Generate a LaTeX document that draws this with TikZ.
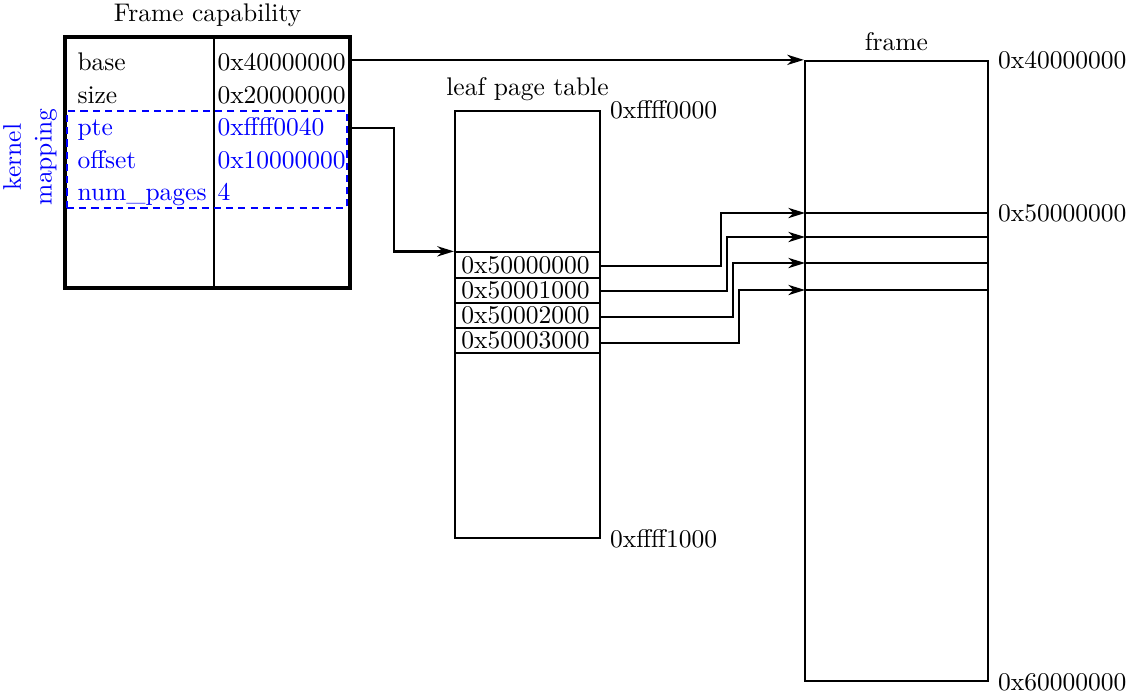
\documentclass[tikz,border=0pt]{standalone}
\usetikzlibrary{arrows.meta,fit}
\begin{document}
\begin{tikzpicture}[x=0.39216pt,y=-0.39216pt,
  capbox/.style={draw,line width=1.3pt,inner sep=0pt},
  membox/.style={draw,line width=0.9pt,inner sep=0pt},
  kbox/.style={draw=blue,dash pattern=on 2.8pt off 2pt,line width=0.9pt,inner sep=0pt},
  divider/.style={line width=0.9pt},
  field/.style={anchor=base west,inner sep=0pt},
  kfield/.style={field,text=blue},
  title/.style={anchor=south},
  addr/.style={anchor=west},
  entry/.style={draw,line width=0.8pt,minimum height=25.25*0.39216pt,
    text width=51.9pt,inner xsep=2.5pt,inner ysep=0pt,align=left},
  arr/.style={line width=0.9pt,-{Stealth[length=6.5pt,width=4pt,inset=2pt]}},
  sep/.style={line width=0.9pt}]
\useasboundingbox (0,0) rectangle (1135,693);

% Frame capability record
\coordinate (capNW) at (65,37);
\coordinate (capSE) at (350,288);
\node[capbox,fit=(capNW)(capSE)] (cap) {};
\node[title] (captitle) at (cap.north) {Frame capability};
\coordinate (colsplit) at (214,0);
\draw[divider] (cap.north -| colsplit) -- (cap.south -| colsplit);

\node[field] (basek) at (77,70)  {base};
\node[field] (sizek) at (77,103) {size};
\node[kfield] (ptek) at (77,135) {pte};
\node[kfield] (offk) at (77,168) {offset};
\node[kfield] (npk)  at (77,200) {num\_pages};
\node[field] (basev) at (217,70)  {0x40000000};
\node[field] (sizev) at (217,103) {0x20000000};
\node[kfield] (ptev) at (217,135) {0xffff0040};
\node[kfield] (offv) at (217,168) {0x10000000};
\node[kfield] (npv)  at (217,200) {4};

% kernel mapping group
\coordinate (kNW) at (67,111);
\coordinate (kSE) at (347,208);
\node[kbox,fit=(kNW)(kSE)] (kmap) {};
\node[rotate=90,anchor=south,align=center,text=blue] (klabel) at (kmap.west |- 0,157) {kernel\\mapping};

% leaf page table
\coordinate (leafNW) at (455,111);
\coordinate (leafSE) at (600,538);
\node[membox,fit=(leafNW)(leafSE)] (leaf) {};
\node[title] (leaftitle) at (leaf.north) {leaf page table};
\node[addr] (leaftop) at (leaf.north east) {0xffff0000};
\node[addr] (leafbot) at (leaf.south east) {0xffff1000};

\node[entry] (e0) at (527.5,265.0) {0x50000000};
\node[entry] (e1) at (527.5,290.25) {0x50001000};
\node[entry] (e2) at (527.5,315.5) {0x50002000};
\node[entry] (e3) at (527.5,340.75) {0x50003000};

% physical frame
\coordinate (frNW) at (805,61);
\coordinate (frSE) at (988,681);
\node[membox,fit=(frNW)(frSE)] (frame) {};
\node[title] (frametitle) at (frame.north) {frame};
\node[addr] (frtop) at (frame.north east) {0x40000000};
\node[addr] (frbot) at (frame.south east) {0x60000000};

\coordinate (f0) at (805,213);
\coordinate (f1) at (805,237);
\coordinate (f2) at (805,263);
\coordinate (f3) at (805,290);
\foreach \p in {f0,f1,f2,f3} \draw[sep] (\p) -- (\p -| frame.east);
\node[addr] (frmid) at (f0 -| frame.east) {0x50000000};

% base pointer
\draw[arr] (cap.east |- frame.north) -- (frame.north west);

% pte pointer
\coordinate (ptebend) at (394,0);
\draw[arr] (cap.east |- 0,128) -| (ptebend |- e0.north) -- (e0.north west);

% page table entries to frame pages
\coordinate (b0) at (721,213);
\coordinate (b1) at (727,237);
\coordinate (b2) at (733,263);
\coordinate (b3) at (739,290);
\draw[arr] (e0.east) ++(0,1) -| (b0) -- (f0);
\draw[arr] (e1.east) ++(0,1) -| (b1) -- (f1);
\draw[arr] (e2.east) ++(0,1.5) -| (b2) -- (f2);
\draw[arr] (e3.east) ++(0,2) -| (b3) -- (f3);
\end{tikzpicture}
\end{document}
